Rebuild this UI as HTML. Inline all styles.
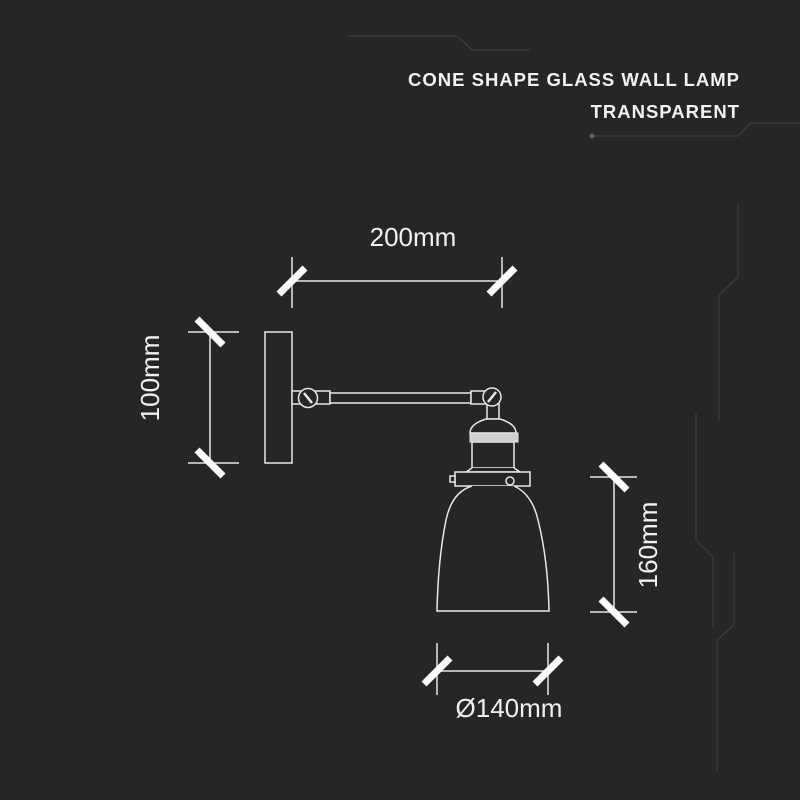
<!DOCTYPE html>
<html><head><meta charset="utf-8"><style>
html,body{margin:0;padding:0;background:#262626;}
svg{display:block}
</style></head><body>
<svg width="800" height="800" viewBox="0 0 800 800" xmlns="http://www.w3.org/2000/svg">
<rect width="800" height="800" fill="#262626"/>
<!-- decor lines -->
<g fill="none" stroke="#3c3c3c" stroke-width="1.2">
<polyline points="348,36 457,36 472,50 530,50"/>
<polyline points="592,136 738,136 751,123 800,123"/>
<polyline points="738,204 738,277 719,295 719,421"/>
<polyline points="696,413 696,540 713,557 713,627"/>
<polyline points="734,553 734,625 717,640 717,771"/>
</g>
<circle cx="592" cy="136" r="2.5" fill="#666"/>
<g font-family="'Liberation Sans',sans-serif" fill="#f2f2f2" font-weight="bold" font-size="18.5" text-anchor="end" letter-spacing="1">
<text x="740" y="86">CONE SHAPE GLASS WALL LAMP</text>
<text x="740" y="118">TRANSPARENT</text>
</g>
<g font-family="'Liberation Sans',sans-serif" fill="#f0f0f0" font-size="26">
<text x="413" y="246" text-anchor="middle">200mm</text>
<text x="509" y="717" text-anchor="middle">Ø140mm</text>
<text transform="translate(159,378) rotate(-90)" text-anchor="middle">100mm</text>
<text transform="translate(657,545) rotate(-90)" text-anchor="middle">160mm</text>
</g>
<!-- dimension lines -->
<g stroke="#e6e6e6" stroke-width="1.5" fill="none">
<line x1="292" y1="281" x2="502" y2="281"/>
<line x1="292" y1="257" x2="292" y2="308"/>
<line x1="502" y1="257" x2="502" y2="308"/>
<line x1="210" y1="332" x2="210" y2="463"/>
<line x1="188" y1="332" x2="239" y2="332"/>
<line x1="188" y1="463" x2="239" y2="463"/>
<line x1="614" y1="477" x2="614" y2="612"/>
<line x1="590" y1="477" x2="637" y2="477"/>
<line x1="590" y1="612" x2="637" y2="612"/>
<line x1="437" y1="671" x2="548" y2="671"/>
<line x1="437" y1="643" x2="437" y2="695"/>
<line x1="548" y1="643" x2="548" y2="695"/>
</g>
<g stroke="#ffffff" stroke-width="7">
<line x1="279" y1="294" x2="305" y2="268"/>
<line x1="489" y1="294" x2="515" y2="268"/>
<line x1="197" y1="319" x2="223" y2="345"/>
<line x1="197" y1="450" x2="223" y2="476"/>
<line x1="601" y1="464" x2="627" y2="490"/>
<line x1="601" y1="599" x2="627" y2="625"/>
<line x1="424" y1="684" x2="450" y2="658"/>
<line x1="535" y1="684" x2="561" y2="658"/>
</g>
<!-- lamp -->
<g stroke="#e8e8e8" stroke-width="1.5" fill="#262626">
<rect x="265" y="332" width="27" height="131"/>
<rect x="292" y="391" width="38" height="13"/>
<rect x="330" y="393" width="141" height="10"/>
<rect x="471" y="391" width="20" height="13"/>
<rect x="487" y="404" width="12" height="15"/>
<circle cx="308" cy="398" r="9.5"/>
<circle cx="492" cy="397" r="9"/>
<path d="M486,419 L500,419 Q516,424 516,433 L470,433 Q470,424 486,419 Z"/>
<rect x="472" y="442" width="42" height="26"/>
<path d="M472,468 L466,472 L520,472 L514,468"/>
<rect x="455" y="472" width="75" height="14"/>
<rect x="450" y="476" width="5" height="6"/>
<circle cx="510" cy="481" r="4"/>
<path d="M472,486 Q452,492 446,520 Q438,560 437,611 L549,611 Q548,560 538,520 Q532,494 514,486"/>
</g>
<rect x="470" y="433" width="48" height="9" fill="#cfcfcf" stroke="#e8e8e8" stroke-width="1"/>
<g stroke="#e8e8e8" stroke-width="2.5">
<line x1="304" y1="393" x2="312" y2="403"/>
<line x1="488" y1="402" x2="496" y2="392"/>
</g>
</svg>
</body></html>
